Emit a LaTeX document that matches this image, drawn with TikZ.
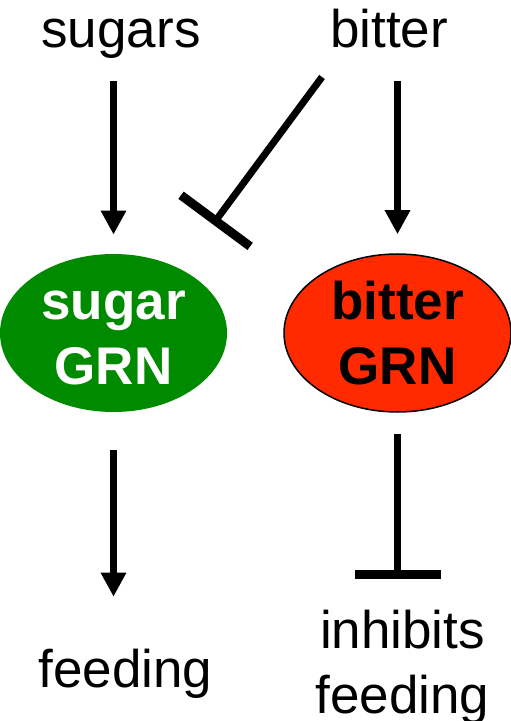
\documentclass[tikz,border=0pt]{standalone}
\usepackage{fontspec}
\setmainfont{Liberation Sans}
\usetikzlibrary{arrows.meta,shapes.geometric}

\begin{document}
\begin{tikzpicture}[x=0.5pt,y=-0.5pt,
  every node/.style={inner sep=0pt},
  lbl/.style={font=\fontsize{26.5pt}{32.5pt}\selectfont,align=center},
  grn/.style={ellipse,minimum width=113.5pt,minimum height=79pt,align=center,
    font=\fontsize{26.5pt}{32.5pt}\selectfont\bfseries},
  ar/.style={-{Triangle[width=12pt,length=12pt]},line width=3.5pt},
  inh/.style={-{Bar[width=43pt,line width=4.5pt]},line width=3.5pt}]
\useasboundingbox (0,0) rectangle (510,721);
\node[lbl,anchor=base] (sugars) at (121,48) {sugars};
\node[lbl,anchor=base] (bitter) at (389,48) {bitter};
\node[grn,fill={rgb,255:red,0;green,138;blue,0},text=white] (sgrn) at (113.5,333) {\vphantom{b}sugar\\GRN};
\node[grn,fill={rgb,255:red,255;green,42;blue,0},draw=black,line width=0.75pt] (rgrn) at (397.5,333) {bitter\\GRN};
\node[lbl,anchor=base] (feed) at (125.5,687) {feeding};
\node[lbl,anchor=north] (inhib) at (402.5,610) {inhibits\\feeding};
\coordinate (bstart) at (322,77);
\draw[ar,shorten <=10.75pt,shorten >=9.5pt] (sugars.south -| sgrn.north) -- (sgrn.north);
\draw[ar,shorten <=16pt,shorten >=9.5pt] (bitter.south -| rgrn.north) -- (rgrn.north);
\draw[inh,shorten >=27.5pt] (bstart) -- (sgrn.44);
\draw[ar,shorten <=19pt,shorten >=25.75pt] (sgrn.south) -- (sgrn.south |- feed.north);
\draw[inh,shorten <=10.75pt,shorten >=15.5pt] (rgrn.south) -- (rgrn.south |- inhib.north);
\end{tikzpicture}
\end{document}
